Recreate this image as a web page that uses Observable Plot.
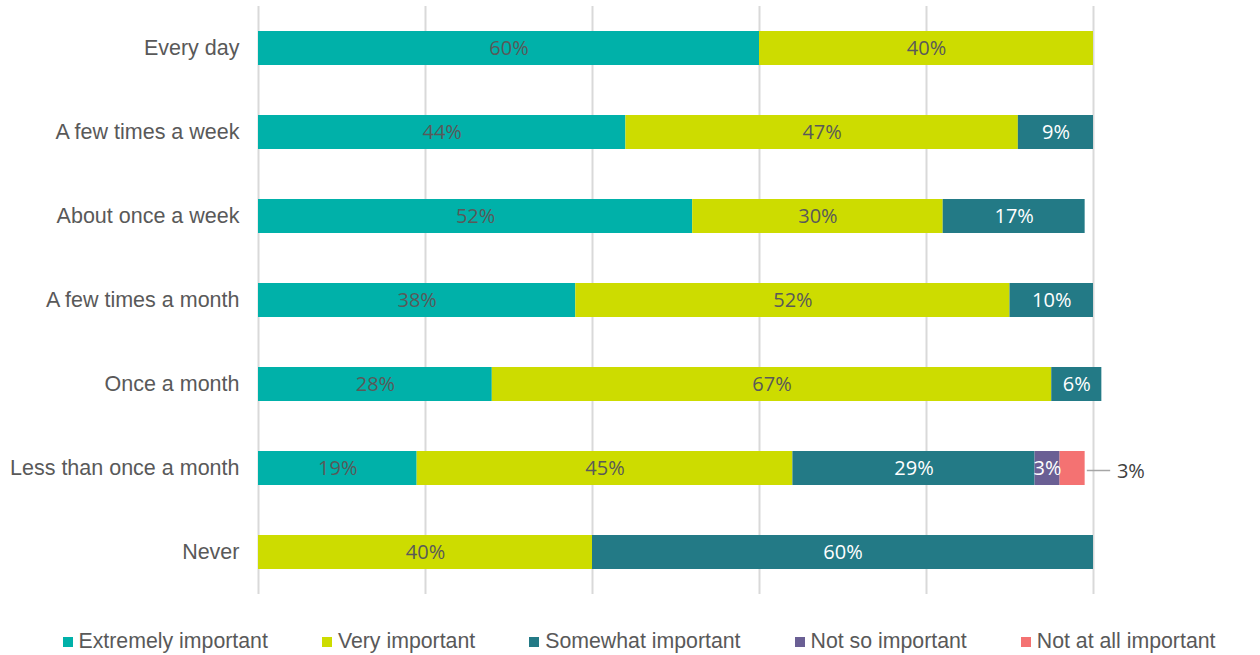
<!DOCTYPE html>
<html>
<head>
<meta charset="utf-8">
<script src="https://cdn.jsdelivr.net/npm/d3@7"></script>
<script src="https://cdn.jsdelivr.net/npm/@observablehq/plot@0.6"></script>
<style>
  html, body { margin: 0; padding: 0; background: #fff; }
  #chart { width: 1260px; }
  #legend {
    display: flex; justify-content: center; align-items: center;
    font-family: "Liberation Sans", Arial, sans-serif; font-size: 21.3px; color: #595959;
    margin-top: 35px; gap: 54px; padding-left: 18px;
  }
  .item { display: flex; align-items: center; }
  .sw { width: 10px; height: 10px; margin-right: 6px; display: inline-block; }
</style>
</head>
<body>
<div id="chart"></div>
<div id="legend"></div>
<script>
const categories = ["Every day", "A few times a week", "About once a week", "A few times a month", "Once a month", "Less than once a month", "Never"];
const seriesNames = ["Extremely important", "Very important", "Somewhat important", "Not so important", "Not at all important"];
const extremely = [60, 44, 52, 38, 28, 19, null];
const very      = [40, 47, 30, 52, 67, 45, 40];
const somewhat  = [null, 9, 17, 10, 6, 29, 60];
const notSo     = [null, null, null, null, null, 3, null];
const notAtAll  = [null, null, null, null, null, 3, null];
const seriesColors = ["#00B1A9", "#CDDC00", "#237A86", "#6A5F94", "#F47272"];
const labelColors = ["#595959", "#595959", "#ffffff", "#ffffff", null];
const gridTicks = [0, 20, 40, 60, 80, 100];

const valuesBySeries = [extremely, very, somewhat, notSo, notAtAll];
const rows = [];
seriesNames.forEach((s, si) => {
  categories.forEach((c, ci) => {
    const v = valuesBySeries[si][ci];
    if (v != null) rows.push({category: c, series: s, value: v, si});
  });
});

// outside label for "Not at all important"
const outside = rows.filter(d => d.series === "Not at all important").map(d => {
  const total = d3.sum(rows.filter(r => r.category === d.category), r => r.value);
  return {...d, total};
});

const stackOpts = {x: "value", y: "category", z: "series", order: seriesNames};

const plot = Plot.plot({
  width: 1260,
  height: 594,
  marginLeft: 258,
  marginRight: 167,
  marginTop: 6,
  marginBottom: 0,
  x: {domain: [0, 100], axis: null},
  y: {domain: categories, paddingInner: 0.595, paddingOuter: 0.2975, label: null},
  color: {type: "identity"},
  style: {fontFamily: "'Liberation Sans', Arial, sans-serif", background: "#fff", overflow: "visible"},
  marks: [
    Plot.ruleX(gridTicks, {stroke: "#d9d9d9", strokeWidth: 2}),
    Plot.barX(rows, Plot.stackX({...stackOpts, fill: d => seriesColors[d.si], inset: 0})),
    Plot.text(rows, Plot.stackX({...stackOpts,
      text: d => labelColors[d.si] ? d.value + "%" : "",
      fill: d => labelColors[d.si] || "none",
      fontFamily: "'Open Sans', sans-serif", fontSize: 20})),
    Plot.link(outside, {x1: d => d.total + 0.2, x2: d => d.total + 3, y1: "category", y2: "category", dy: 2,
      stroke: "#a6a6a6", strokeWidth: 1.5}),
    Plot.text(outside, {x: d => d.total + 3.8, y: "category", text: d => d.value + "%", textAnchor: "start",
      dy: 3, fill: "#404040", fontFamily: "'Open Sans', sans-serif", fontSize: 20}),
    Plot.axisY({tickSize: 0, tickPadding: 19, fontSize: 21.5, fill: "#595959", label: null})
  ]
});
document.getElementById("chart").appendChild(plot);

const legend = document.getElementById("legend");
seriesNames.forEach((s, i) => {
  const it = document.createElement("div");
  it.className = "item";
  it.innerHTML = `<span class="sw" style="background:${seriesColors[i]}"></span><span>${s}</span>`;
  legend.appendChild(it);
});
</script>
</body>
</html>
